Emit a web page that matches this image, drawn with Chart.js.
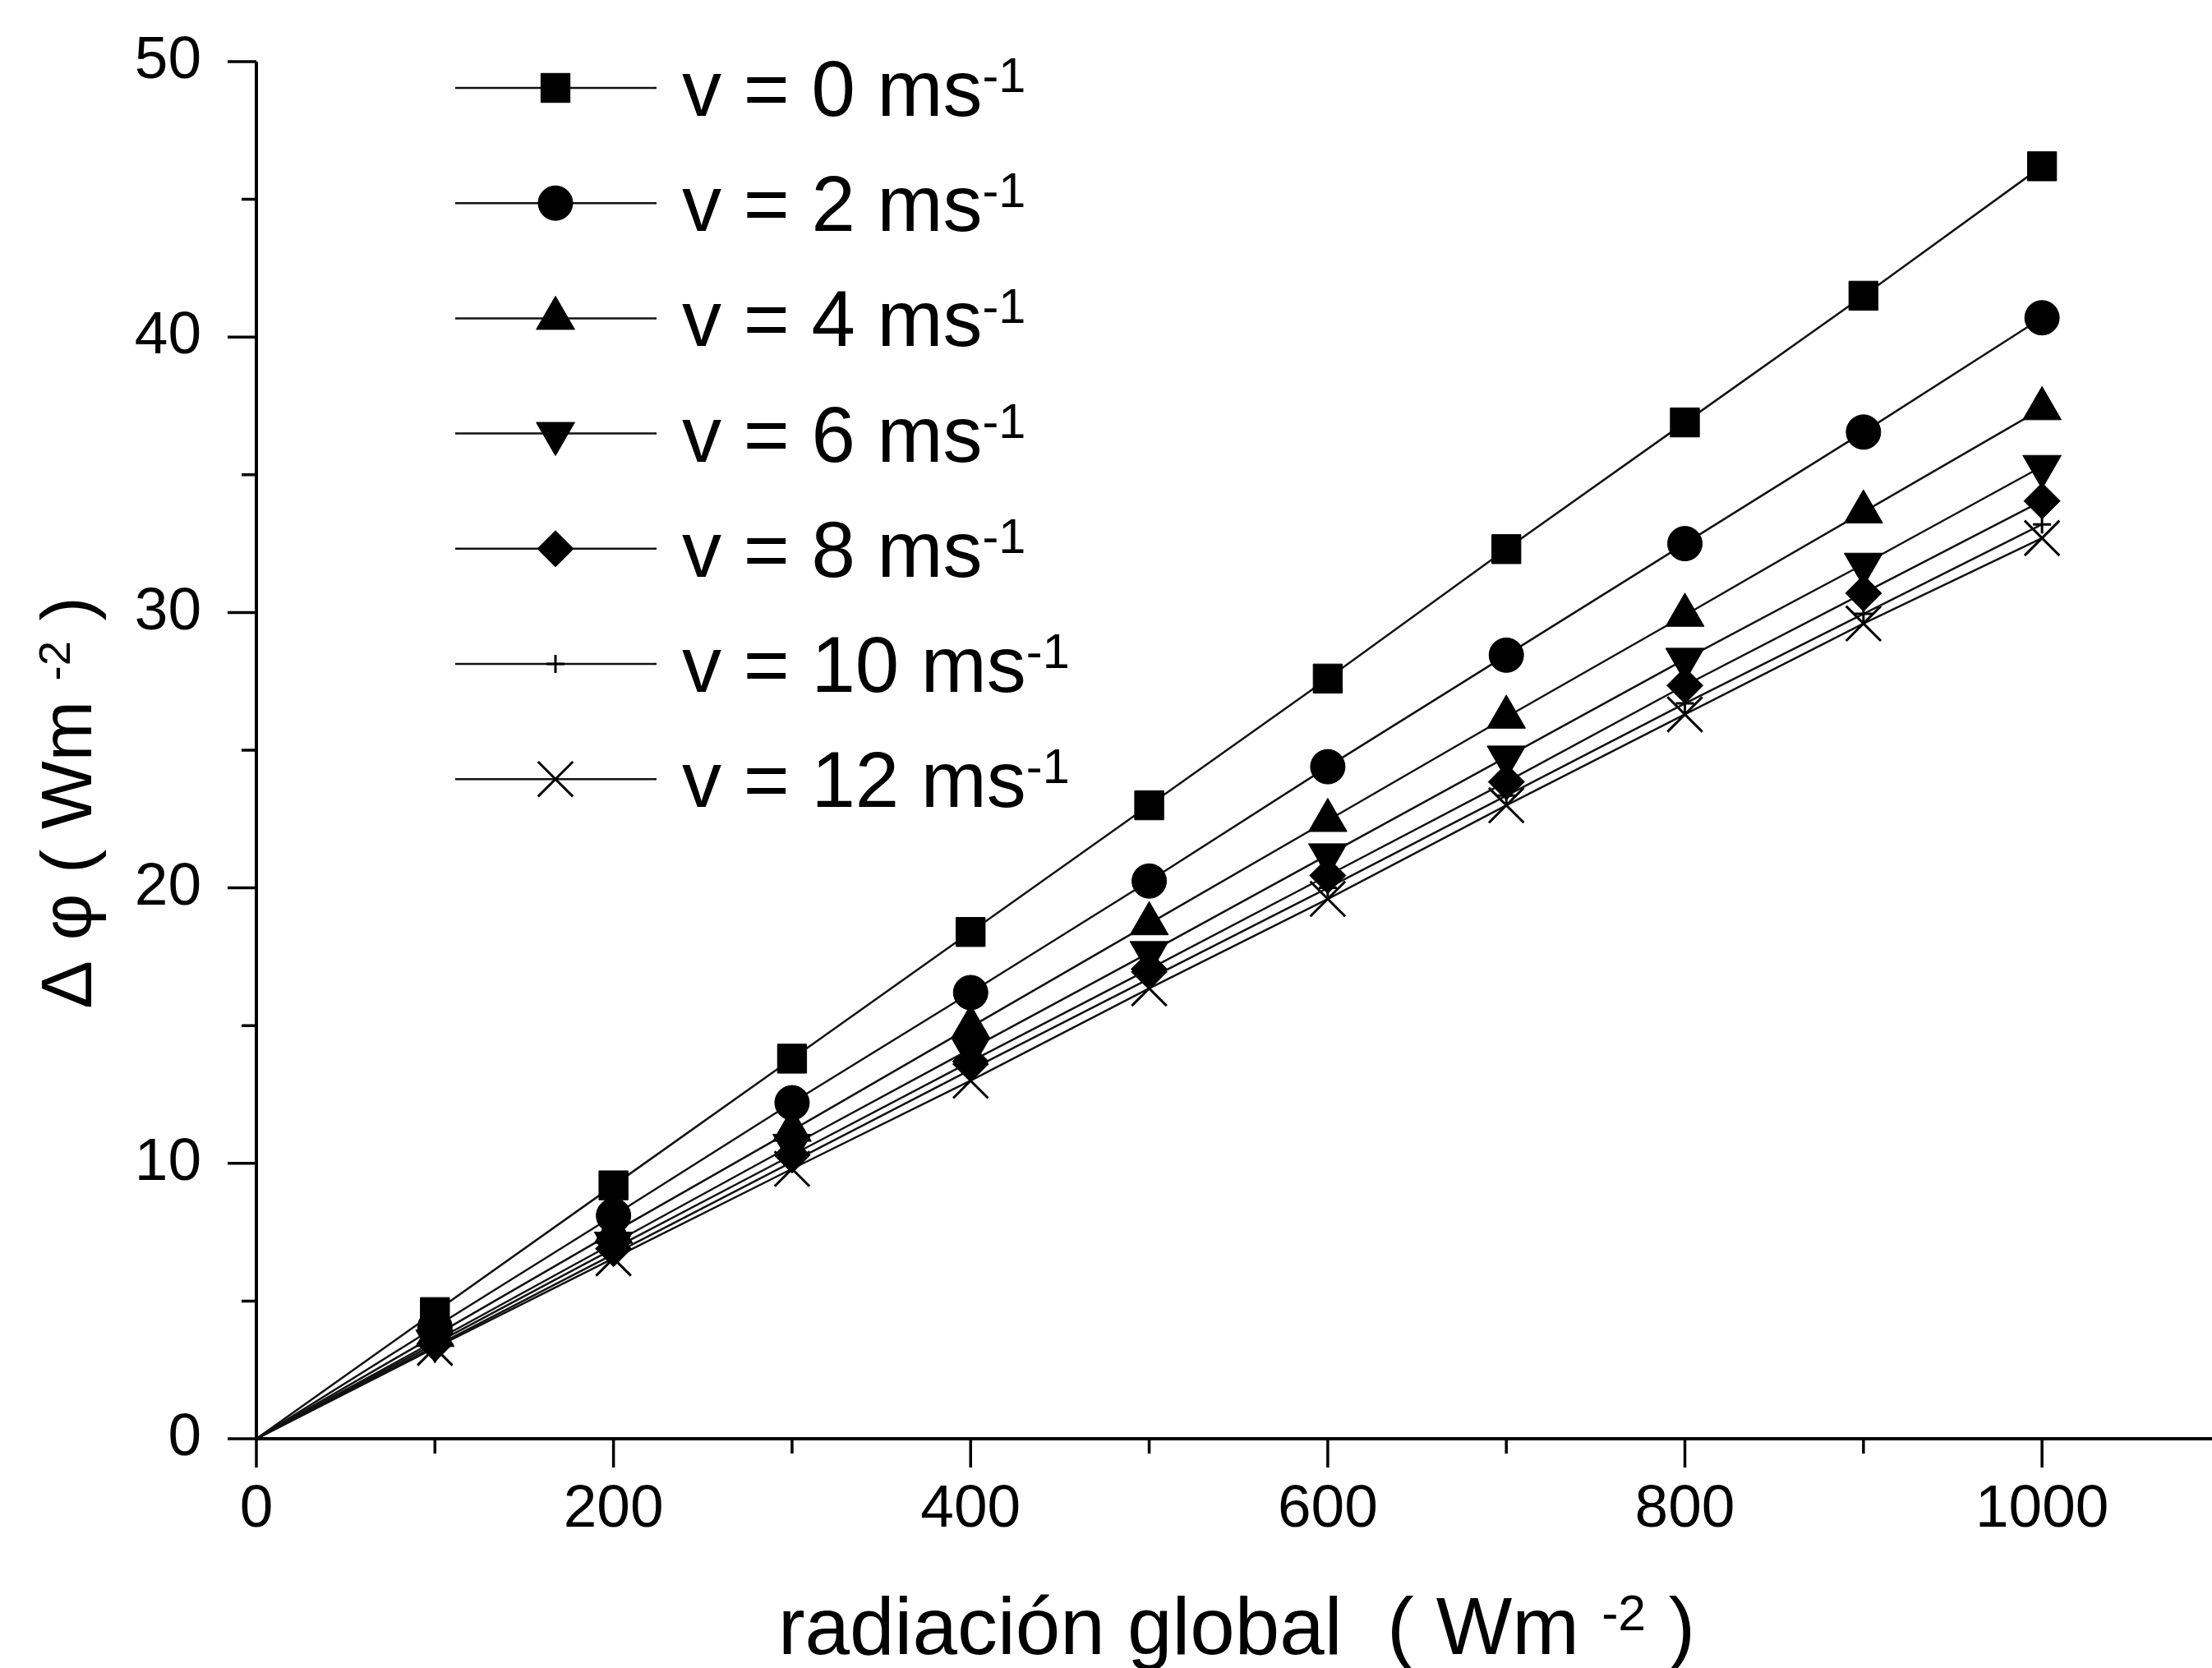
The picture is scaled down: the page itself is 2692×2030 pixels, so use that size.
<!DOCTYPE html>
<html>
<head>
<meta charset="utf-8">
<script src="https://cdn.jsdelivr.net/npm/chart.js@4.4.1/dist/chart.umd.min.js"></script>
<style>
  html, body { margin: 0; padding: 0; background: #fff; }
</style>
</head>
<body>
<canvas id="myChart" width="2692" height="2030"></canvas>
<script>
// radiacion global (Wm-2) and delta phi (Wm-2) for each wind speed
const radiacion = [0, 100, 200, 300, 400, 500, 600, 700, 800, 900, 1000];
const v0  = [0, 4.6, 9.2, 13.8, 18.4, 23.0, 27.6, 32.3, 36.9, 41.5, 46.2];
const v2  = [0, 4.05, 8.1, 12.2, 16.2, 20.25, 24.4, 28.45, 32.5, 36.55, 40.7];
const v4  = [0, 3.75, 7.5, 11.2, 14.95, 18.7, 22.45, 26.2, 29.9, 33.65, 37.4];
const v6  = [0, 3.55, 7.1, 10.65, 14.15, 17.65, 21.2, 24.75, 28.3, 31.75, 35.3];
const v8  = [0, 3.45, 6.9, 10.3, 13.7, 17.05, 20.45, 23.85, 27.35, 30.7, 34.05];
const v10 = [0, 3.35, 6.7, 10.05, 13.4, 16.7, 20.0, 23.35, 26.7, 29.95, 33.2];
const v12 = [0, 3.3, 6.55, 9.8, 13.0, 16.35, 19.6, 23.0, 26.3, 29.6, 32.7];

const seriesNames = ['v = 0 ms', 'v = 2 ms', 'v = 4 ms', 'v = 6 ms', 'v = 8 ms', 'v = 10 ms', 'v = 12 ms'];
const xTickValues = [0, 200, 400, 600, 800, 1000];
const xMinorValues = [100, 300, 500, 700, 900];
const yTickValues = [0, 10, 20, 30, 40, 50];
const yMinorValues = [5, 15, 25, 35, 45];

const allSeries = [v0, v2, v4, v6, v8, v10, v12];
const markers = [
  { style: 'rect', r: 25, rot: 0, bw: 1 },
  { style: 'circle', r: 21, rot: 0, bw: 1 },
  { style: 'triangle', r: 27, rot: 0, bw: 1 },
  { style: 'triangle', r: 27, rot: 180, bw: 1 },
  { style: 'rectRot', r: 22, rot: 0, bw: 1 },
  { style: 'cross', r: 11, rot: 0, bw: 3 },
  { style: 'crossRot', r: 30, rot: 0, bw: 3 }
];

const FONT = '"Liberation Sans", Arial, sans-serif';

let datasets = [];
for (let i = 0; i < allSeries.length; i++) {
  let m = markers[i];
  datasets.push({
    label: seriesNames[i] + '-1',
    data: radiacion.map((x, j) => ({ x: x, y: allSeries[i][j] })),
    borderColor: '#111',
    borderWidth: 2.5,
    backgroundColor: '#000',
    pointStyle: m.style,
    pointRotation: m.rot,
    pointRadius: ctx => ctx.dataIndex === 0 ? 0 : m.r,
    pointBackgroundColor: '#000',
    pointBorderColor: '#000',
    pointBorderWidth: m.bw,
    tension: 0
  });
}

// draws a string made of normal and superscript parts
function drawParts(ctx, parts, x, y, size, align) {
  let total = 0;
  parts.forEach(p => {
    ctx.font = (p.sup ? size * 0.62 : size) + 'px ' + FONT;
    p.w = ctx.measureText(p.t).width;
    total += p.w;
  });
  let cx = align === 'center' ? x - total / 2 : x;
  parts.forEach(p => {
    ctx.font = (p.sup ? size * 0.62 : size) + 'px ' + FONT;
    ctx.fillText(p.t, cx, p.sup ? y - size * 0.3 : y);
    cx += p.w;
  });
}

const decorations = {
  id: 'decorations',
  afterDraw(chart) {
    const ctx = chart.ctx;
    const xs = chart.scales.x, ys = chart.scales.y;
    const area = chart.chartArea;
    ctx.save();
    ctx.strokeStyle = '#000';
    ctx.fillStyle = '#000';
    ctx.lineCap = 'butt';

    // axis lines
    ctx.lineWidth = 4;
    ctx.beginPath();
    ctx.moveTo(area.left, area.bottom);
    ctx.lineTo(chart.width, area.bottom);
    ctx.moveTo(area.left, area.bottom);
    ctx.lineTo(area.left, area.top);
    ctx.stroke();

    // ticks
    ctx.lineWidth = 3.5;
    ctx.beginPath();
    xTickValues.forEach(v => { let p = xs.getPixelForValue(v); ctx.moveTo(p, area.bottom); ctx.lineTo(p, area.bottom + 35); });
    xMinorValues.forEach(v => { let p = xs.getPixelForValue(v); ctx.moveTo(p, area.bottom); ctx.lineTo(p, area.bottom + 18); });
    yTickValues.forEach(v => { let p = ys.getPixelForValue(v); ctx.moveTo(area.left, p); ctx.lineTo(area.left - 35, p); });
    yMinorValues.forEach(v => { let p = ys.getPixelForValue(v); ctx.moveTo(area.left, p); ctx.lineTo(area.left - 18, p); });
    ctx.stroke();

    // axis titles
    ctx.textBaseline = 'alphabetic';
    ctx.textAlign = 'left';
    drawParts(ctx, [{ t: 'radiación global  ( Wm ' }, { t: '-2', sup: true }, { t: ' )' }], 1505, 2013, 98, 'center');

    ctx.save();
    ctx.translate(80, 977);
    ctx.rotate(-Math.PI / 2);
    drawParts(ctx, [{ t: 'Δ φ ( Wm ' }, { t: '-2', sup: true }, { t: ' )' }], 0, 31, 88, 'center');
    ctx.restore();

    // legend
    for (let i = 0; i < seriesNames.length; i++) {
      let y = 107 + i * 140.2;
      let m = markers[i];
      ctx.lineWidth = 2.5;
      ctx.strokeStyle = '#111';
      ctx.beginPath();
      ctx.moveTo(554, y);
      ctx.lineTo(799, y);
      ctx.stroke();
      ctx.strokeStyle = '#000';
      ctx.lineWidth = m.bw;
      Chart.helpers.drawPoint(ctx, { pointStyle: m.style, rotation: m.rot, radius: m.r, borderWidth: m.bw }, 676, y);
      drawParts(ctx, [{ t: seriesNames[i] }, { t: '-1', sup: true }], 830, y + 34, 96, 'left');
    }
    ctx.restore();
  }
};

new Chart(document.getElementById('myChart'), {
  type: 'line',
  data: { datasets: datasets },
  options: {
    responsive: false,
    animation: false,
    devicePixelRatio: 1,
    layout: { padding: { top: 75, right: 0, left: 0, bottom: 0 } },
    plugins: { legend: { display: false }, tooltip: { enabled: false } },
    scales: {
      x: {
        type: 'linear',
        min: 0,
        max: 1080,
        afterBuildTicks: s => { s.ticks = xTickValues.map(v => ({ value: v })); },
        afterFit: s => { s.height = 279; s.paddingLeft = 0; s.paddingRight = 0; },
        grid: { display: false, drawTicks: false },
        border: { display: false },
        ticks: { color: '#000', padding: 43, maxRotation: 0, font: { family: FONT, size: 73 }, callback: v => String(v) }
      },
      y: {
        type: 'linear',
        min: 0,
        max: 50,
        afterBuildTicks: s => { s.ticks = yTickValues.map(v => ({ value: v })); },
        afterFit: s => { s.width = 312; s.paddingTop = 0; s.paddingBottom = 0; },
        grid: { display: false, drawTicks: false },
        border: { display: false },
        ticks: { color: '#000', padding: 67, font: { family: FONT, size: 73 }, callback: v => String(v) }
      }
    }
  },
  plugins: [decorations]
});
</script>
</body>
</html>
